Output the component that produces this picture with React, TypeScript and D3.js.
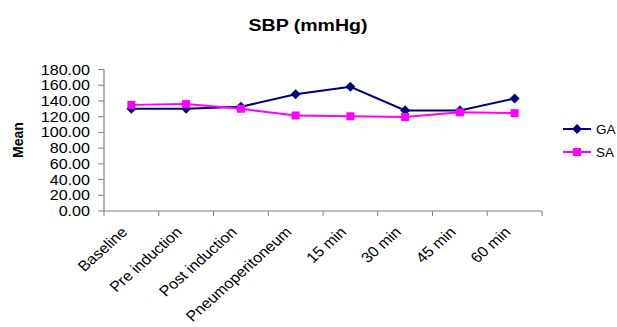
import React from "react";
import * as d3 from "d3";

const categories = ["Baseline", "Pre induction", "Post induction", "Pneumoperitoneum", "15 min", "30 min", "45 min", "60 min"];
const gaValues = [130, 130, 132.5, 148.5, 158, 128, 128, 143];
const saValues = [135, 136, 130, 121.5, 120.5, 119.5, 125.5, 124.5];
const yTicks = [0, 20, 40, 60, 80, 100, 120, 140, 160, 180];
const seriesNames = ["GA", "SA"];

const W = 617, H = 327;
const left = 104, right = 542, top = 69.5, bottom = 211;
const FONT = "Arial, 'Liberation Sans', sans-serif";
const SX = 1.15;

export default function App() {
  const x = d3.scaleBand<string>().domain(categories).range([left, right]);
  const y = d3.scaleLinear().domain([0, 180]).range([bottom, top]);
  const cx = (c: string) => (x(c) as number) + x.bandwidth() / 2;
  const line = d3.line<number>().x((_, i) => cx(categories[i])).y((v) => y(v));
  const diamond = d3.symbol().type(d3.symbolDiamond2).size(64)() as string;
  const square = d3.symbol().type(d3.symbolSquare).size(64)() as string;
  const edges = categories.map((c) => x(c) as number).concat([right]);

  return (
    <svg width={W} height={H} style={{ position: "absolute", left: 0, top: 0 }} fontFamily={FONT}>
      <rect width={W} height={H} fill="#fff" />
      <text transform={`translate(308,31) scale(${SX},1)`} textAnchor="middle" fontSize={17} fontWeight="bold">SBP (mmHg)</text>
      <text transform={`translate(23,140) rotate(-90)`} textAnchor="middle" fontSize={14} fontWeight="bold">Mean</text>
      {/* axes */}
      <line x1={left} x2={left} y1={top} y2={bottom} stroke="#808080" strokeWidth={1.2} />
      <line x1={left} x2={right} y1={bottom} y2={bottom} stroke="#808080" strokeWidth={1.2} />
      {yTicks.map((t) => (
        <g key={t}>
          <line x1={left - 6} x2={left} y1={y(t)} y2={y(t)} stroke="#808080" />
          <text transform={`translate(90,${y(t)}) scale(${SX},1)`} dy="0.36em" textAnchor="end" fontSize={14}>{t.toFixed(2)}</text>
        </g>
      ))}
      {edges.map((e, i) => (
        <line key={i} x1={e} x2={e} y1={bottom} y2={bottom + 5} stroke="#808080" />
      ))}
      {categories.map((c) => (
        <text key={c} transform={`translate(${cx(c) - 3},${bottom + 22}) scale(1.12,1) rotate(-45)`} textAnchor="end" fontSize={14.5}>{c}</text>
      ))}
      {/* series */}
      <path d={line(gaValues) as string} fill="none" stroke="#000080" strokeWidth={2} />
      {gaValues.map((v, i) => (
        <path key={i} d={diamond} transform={`translate(${cx(categories[i])},${y(v)})`} fill="#000080" />
      ))}
      <path d={line(saValues) as string} fill="none" stroke="#FF00FF" strokeWidth={2} />
      {saValues.map((v, i) => (
        <path key={i} d={square} transform={`translate(${cx(categories[i])},${y(v)})`} fill="#FF00FF" />
      ))}
      {/* legend */}
      <line x1={563} x2={591} y1={129} y2={129} stroke="#000080" strokeWidth={2} />
      <path d={diamond} transform="translate(577,129)" fill="#000080" />
      <text x={596} y={129} dy="0.36em" fontSize={13.5}>{seriesNames[0]}</text>
      <line x1={563} x2={591} y1={152} y2={152} stroke="#FF00FF" strokeWidth={2} />
      <path d={square} transform="translate(577,152)" fill="#FF00FF" />
      <text x={596} y={152} dy="0.36em" fontSize={13.5}>{seriesNames[1]}</text>
    </svg>
  );
}
